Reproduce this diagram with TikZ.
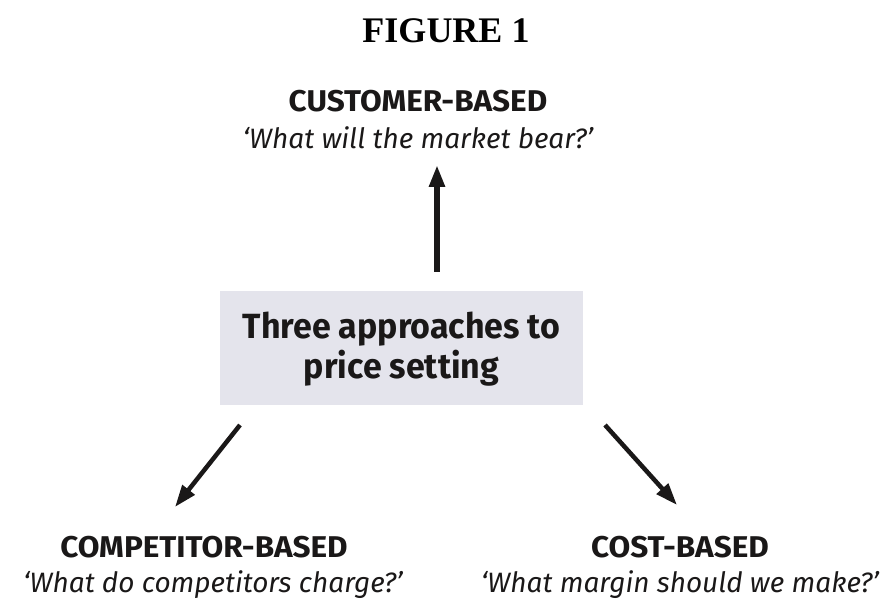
\documentclass[tikz,border=0pt]{standalone}
\usepackage{fontspec}
\setmainfont{Liberation Serif}
\newfontfamily\headfont[FakeStretch=1.05]{Fira Sans}
\newfontfamily\boxfont[FakeStretch=0.97]{Fira Sans}
\newfontfamily\askfont{Fira Sans}
\usetikzlibrary{arrows.meta}
\definecolor{boxfill}{RGB}{228,228,236}
\definecolor{ink}{RGB}{26,24,24}
\begin{document}
\begin{tikzpicture}[x=1pt,y=-1pt,
  heading/.style={inner sep=0pt,anchor=base,text=ink,font=\headfont\bfseries\fontsize{30}{32}\selectfont},
  question/.style={inner sep=0pt,anchor=base,text=ink,font=\askfont\itshape\fontsize{28}{30}\selectfont},
  arr/.style={draw=ink,line width=5.5pt,-{Triangle[length=22pt,width=15pt]}}]
\useasboundingbox (0,0) rectangle (887,601);
% title
\node[inner sep=0pt,anchor=base,font=\bfseries\fontsize{36}{40}\selectfont] (title) at (446,43) {FIGURE 1};
% central box
\path[fill=boxfill] (220,291) rectangle (583,405);
\node[inner sep=0pt,align=center,text=ink,font=\boxfont\bfseries\fontsize{35}{40}\selectfont] (centre) at (401.5,349) {Three approaches to\\price setting};
% three approaches
\node[heading] (cust) at (418,112) {CUSTOMER-BASED};
\node[question] (custq) at (418,149) {‘What will the market bear?’};
\node[heading] (comp) at (204,558) {COMPETITOR-BASED};
\node[question] (compq) at (213,592) {‘What do competitors charge?’};
\node[heading] (cost) at (680,558) {COST-BASED};
\node[question] (costq) at (680,592) {‘What margin should we make?’};
% arrow end points
\coordinate (upfrom) at (437,272);
\coordinate (upto) at (437,165);
\coordinate (leftfrom) at (240,425);
\coordinate (leftto) at (175,507);
\coordinate (rightfrom) at (605,425);
\coordinate (rightto) at (677,505);
\draw[arr] (upfrom) -- (upto);
\draw[arr,line width=4.5pt] (leftfrom) -- (leftto);
\draw[arr,line width=4.5pt] (rightfrom) -- (rightto);
\end{tikzpicture}
\end{document}
